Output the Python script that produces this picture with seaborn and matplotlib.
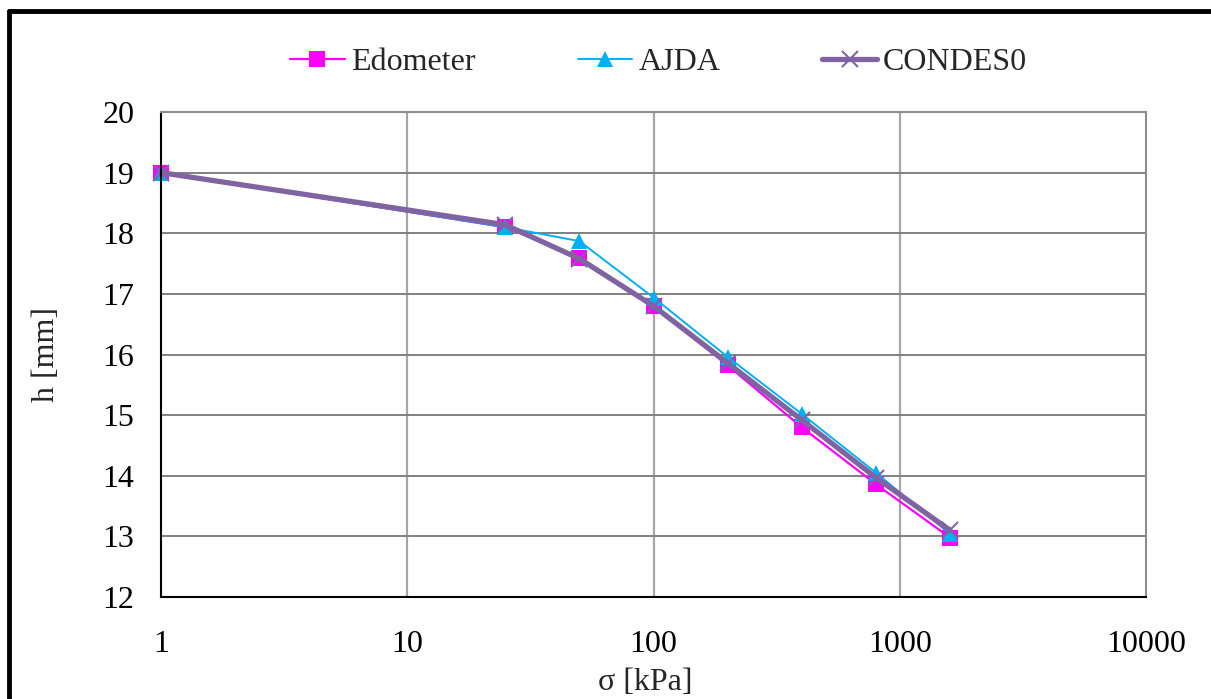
import matplotlib
matplotlib.use("Agg")
import matplotlib.pyplot as plt
import matplotlib.ticker as mticker
from matplotlib.lines import Line2D
import seaborn as sns
import pandas as pd

sigma = [1, 25, 50, 100, 200, 400, 800, 1600]
edometer = [19.0, 18.1, 17.6, 16.8, 15.82, 14.8, 13.86, 12.98]
ajda = [19.0, 18.1, 17.87, 16.94, 15.96, 15.02, 14.05, 13.04]
condes0 = [19.0, 18.14, 17.58, 16.8, 15.86, 14.92, 13.97, 13.1]
series_names = ["Edometer", "AJDA", "CONDES0"]
x_ticks = [1, 10, 100, 1000, 10000]
x_tick_labels = ["1", "10", "100", "1000", "10000"]
y_ticks = [12, 13, 14, 15, 16, 17, 18, 19, 20]

sns.set_theme(style="white")
plt.rcParams["font.family"] = ["Liberation Serif", "DejaVu Serif"]

df = pd.concat([
    pd.DataFrame({"sigma": sigma, "h": vals, "series": name})
    for name, vals in zip(series_names, [edometer, ajda, condes0])
], ignore_index=True)

styles = {
    "Edometer": dict(color="#FF00FF", linewidth=1.6, marker="s", markersize=11,
                     markeredgewidth=0, markeredgecolor="#FF00FF"),
    "AJDA": dict(color="#00B0F0", linewidth=1.4, marker="^", markersize=11.5,
                 markeredgewidth=0, markeredgecolor="#00B0F0"),
    "CONDES0": dict(color="#8064A2", linewidth=3.8, marker="x", markersize=12,
                    markeredgewidth=1.5, markeredgecolor="#8064A2"),
}

fig = plt.figure(figsize=(12.11, 6.99), dpi=100)
ax = fig.add_axes([161 / 1211, 1 - 597 / 699, 985 / 1211, 485 / 699])

for name in series_names:
    sub = df[df["series"] == name]
    sns.lineplot(data=sub, x="sigma", y="h", ax=ax, estimator=None, sort=False,
                 label=name, legend=False, clip_on=False, **styles[name])

ax.set_xscale("log")
ax.set_xlim(1, 10000)
ax.set_ylim(12, 20)
ax.set_xticks(x_ticks)
ax.set_xticklabels(x_tick_labels)
ax.xaxis.set_minor_locator(mticker.NullLocator())
ax.set_yticks(y_ticks)
ax.tick_params(axis="both", length=0, labelsize=23, colors="black")
ax.tick_params(axis="x", pad=24)
ax.tick_params(axis="y", pad=19)

ax.grid(False)
for t in [10, 100, 1000]:
    ax.axvline(t, color="#a6a6a6", linewidth=1.6, zorder=0)
for t in y_ticks[1:-1]:
    ax.axhline(t, color="#808080", linewidth=1.4, zorder=0)
ax.axhline(20, color="#8c8c8c", linewidth=1.4, zorder=0)

for side in ["left", "bottom"]:
    ax.spines[side].set_color("black")
    ax.spines[side].set_linewidth(1.5)
for side in ["top", "right"]:
    ax.spines[side].set_color("#8c8c8c")
    ax.spines[side].set_linewidth(1.5)

ax.set_xlabel("σ [kPa]", fontsize=23, va="center")
ax.set_ylabel("h [mm]", fontsize=23, va="center")
ax.xaxis.set_label_coords((645 - 161) / 985, (597 - 682) / 485)
ax.yaxis.set_label_coords((47 - 161) / 985, 0.5)

handles = [Line2D([], [], **styles[n]) for n in series_names]
fig.legend(handles, series_names, loc="center", bbox_to_anchor=(0.544, 0.911),
           ncol=3, frameon=False, fontsize=23, handlelength=1.7,
           handletextpad=0.2, columnspacing=3.2)

# outer border (top and left visible)
fig.add_artist(Line2D([9 / 1211, 9 / 1211], [0, 1 - 11 / 699], color="black",
                      linewidth=3.5, transform=fig.transFigure))
fig.add_artist(Line2D([9 / 1211, 1], [1 - 11 / 699, 1 - 11 / 699], color="black",
                      linewidth=3.5, transform=fig.transFigure))

fig.savefig("out.png", dpi=100)
